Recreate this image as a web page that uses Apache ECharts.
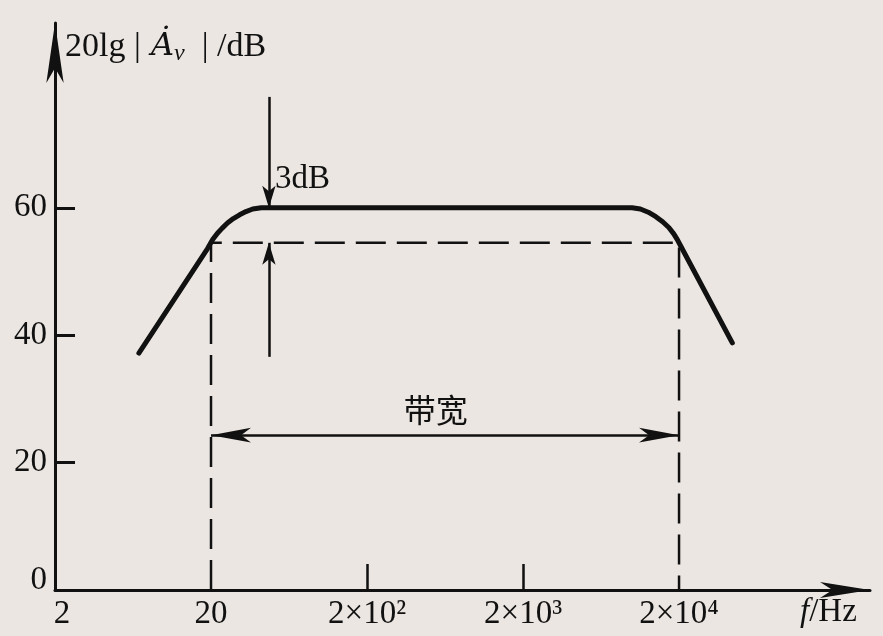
<!DOCTYPE html>
<html>
<head>
<meta charset="utf-8">
<script src="https://cdn.jsdelivr.net/npm/echarts@6/dist/echarts.min.js"></script>
<style>
html,body{margin:0;padding:0;background:#ebe6e2;}
#chart{width:883px;height:636px;}
</style>
</head>
<body>
<div id="chart"></div>
<script>
// ---- data ----
const curveFreqHz = [6.9, 19.0, 20.5, 22, 23.6, 25.5, 27.8, 30.5, 33.5, 37, 42,
                     10000, 11300, 12700, 14200, 15700, 17200, 18500, 19500, 20500, 43900];
const curveGainDb = [37.2, 53.6, 55.0, 56.0, 56.8, 57.6, 58.3, 58.9, 59.4, 59.8, 60,
                     60, 59.8, 59.3, 58.6, 57.8, 56.9, 55.9, 55.0, 54.0, 38.8];
const cutoffFreqs = [20, 20000];      // fL, fH
const cutoffDb = 54.5;                 // -3 dB level
const passbandDb = 60;
const markerFreq = 47;                 // position of the "3dB" marker
const markerTopDb = 77.4;
const markerBottomDb = 36.6;
const bandwidthDb = 24.3;
const bandwidthLabelPos = [551, 28.3];
const markerLabelPos = [47, 64.4];
const xTickValues = [2, 20, 200, 2000, 20000];
const xTickLabels = ['2', '20', '2×10²', '2×10³', '2×10⁴'];
const yTickValues = [0, 20, 40, 60];
const yTickLabels = ['0', '20', '40', '60'];

const INK = '#111111';
const SERIF = 'Liberation Serif';
const FS = 33;

const chart = echarts.init(document.getElementById('chart'), null, {renderer: 'canvas'});

const option = {
  backgroundColor: '#ebe6e2',
  animation: false,
  grid: {left: 55, right: 13, top: 23, bottom: 46, containLabel: false},
  xAxis: {
    type: 'log',
    logBase: 10,
    min: 2,
    max: 335000,
    name: '{i|f}{n|/Hz}',
    nameLocation: 'end',
    nameGap: -70,
    nameTextStyle: {
      align: 'left', verticalAlign: 'top', padding: [6, 0, 0, 0],
      rich: {
        i: {fontFamily: SERIF, fontSize: FS, fontStyle: 'italic', color: INK},
        n: {fontFamily: SERIF, fontSize: FS, color: INK}
      }
    },
    axisLine: {show: true, lineStyle: {color: INK, width: 3}, symbol: ['none', 'arrow'], symbolSize: [12, 50]},
    axisTick: {show: true, inside: true, length: 26, lineStyle: {color: INK, width: 2.5}, customValues: [200, 2000]},
    axisLabel: {
      show: true, margin: 8, color: INK, fontFamily: SERIF, fontSize: FS,
      customValues: xTickValues,
      formatter: function (v) {
        let best = 0;
        for (let i = 0; i < xTickValues.length; i++) {
          if (Math.abs(Math.log10(v) - Math.log10(xTickValues[i])) < Math.abs(Math.log10(v) - Math.log10(xTickValues[best]))) best = i;
        }
        if (best === 0) return '{f|' + xTickLabels[best] + '}';
        return xTickLabels[best];
      },
      rich: {f: {fontFamily: SERIF, fontSize: FS, color: INK, padding: [0, 0, 0, 14]}}
    },
    splitLine: {show: false}
  },
  yAxis: {
    type: 'value',
    min: 0,
    max: 89,
    interval: 20,
    name: '{n|20lg |}{a| Ȧ}{s|v}{n|  | /dB}',
    nameLocation: 'end',
    nameGap: -24,
    nameTextStyle: {
      align: 'left', verticalAlign: 'middle', padding: [0, 0, 0, 10],
      rich: {
        n: {fontFamily: SERIF, fontSize: 34, color: INK},
        a: {fontFamily: 'DejaVu Serif', fontSize: 32, fontStyle: 'italic', color: INK},
        s: {fontFamily: SERIF, fontSize: 24, fontStyle: 'italic', color: INK, padding: [14, 0, 0, 0]}
      }
    },
    axisLine: {show: true, lineStyle: {color: INK, width: 3}, symbol: ['none', 'arrow'], symbolSize: [13, 60]},
    axisTick: {show: true, inside: true, length: 20, lineStyle: {color: INK, width: 3}, customValues: [20, 40, 60]},
    axisLabel: {
      show: true, margin: 8, color: INK, fontFamily: SERIF, fontSize: FS,
      customValues: yTickValues,
      formatter: function (v) {
        const i = yTickValues.indexOf(v);
        if (i === 0) return '{z|' + yTickLabels[i] + '}';
        return i >= 0 ? yTickLabels[i] : '';
      },
      rich: {z: {fontFamily: SERIF, fontSize: FS, color: INK, padding: [0, 0, 20, 0]}}
    },
    splitLine: {show: false}
  },
  series: [
    {
      name: 'gain',
      type: 'line',
      data: curveFreqHz.map((f, i) => [f, curveGainDb[i]]),
      symbol: 'none',
      smooth: false,
      lineStyle: {color: INK, width: 5, join: 'round', cap: 'round'},
      z: 5
    },
    {
      name: 'cutoff',
      type: 'line',
      data: [[cutoffFreqs[0], 0], [cutoffFreqs[0], cutoffDb], [cutoffFreqs[1], cutoffDb], [cutoffFreqs[1], 0]],
      symbol: 'none',
      lineStyle: {color: INK, width: 2.5, type: [30, 11]},
      z: 3,
      markLine: {
        silent: true,
        symbol: ['none', 'arrow'],
        symbolSize: [10, 22],
        label: {show: false},
        lineStyle: {color: INK, width: 2.5, type: 'solid'},
        data: [
          [{coord: [markerFreq, markerTopDb]}, {coord: [markerFreq, passbandDb]}],
          [{coord: [markerFreq, markerBottomDb]}, {coord: [markerFreq, cutoffDb]}],
          [{coord: [cutoffFreqs[0], bandwidthDb], symbol: 'arrow', symbolSize: [11, 40]},
           {coord: [cutoffFreqs[1], bandwidthDb], symbol: 'arrow', symbolSize: [11, 40]}]
        ]
      }
    },
    {
      name: 'labels',
      type: 'scatter',
      symbolSize: 0,
      silent: true,
      itemStyle: {opacity: 1},
      data: [
        {value: markerLabelPos, label: {show: true, position: 'right', distance: 6, formatter: '3dB',
          fontFamily: SERIF, fontSize: FS, color: INK, opacity: 1}},
        {value: bandwidthLabelPos, label: {show: true, position: 'inside', formatter: '带宽',
          fontFamily: 'Noto Sans CJK SC', fontSize: 32, color: INK, opacity: 1}}
      ],
      z: 6
    }
  ]
};
chart.setOption(option);
</script>
</body>
</html>
